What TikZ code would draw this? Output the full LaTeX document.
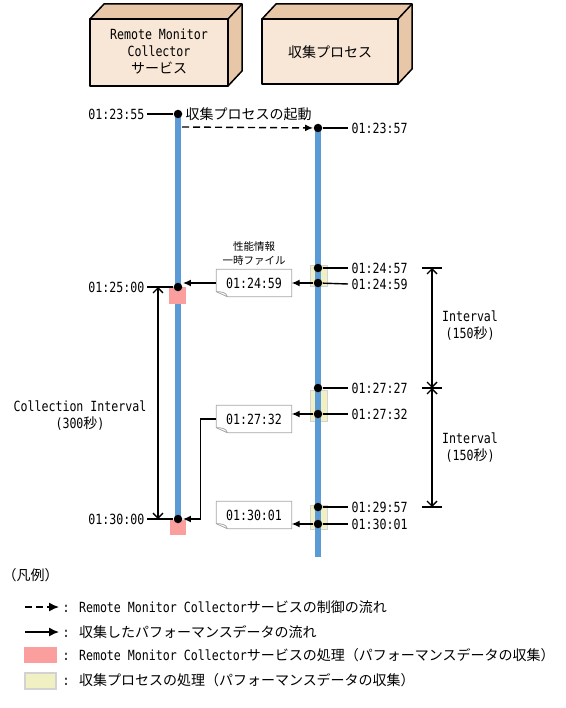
\documentclass[tikz,border=0pt]{standalone}
\usepackage{fontspec}
\setmainfont[FakeStretch=0.83]{DejaVu Sans Mono}
\newfontfamily\jpfont{Noto Sans CJK JP}
\usetikzlibrary{arrows.meta,positioning}
\definecolor{boxfront}{RGB}{248,230,214}
\definecolor{boxside}{RGB}{232,198,168}
\definecolor{lifeblue}{RGB}{91,155,213}
\definecolor{rmcpink}{RGB}{250,158,158}
\definecolor{procyellow}{RGB}{240,240,194}
\newcommand{\ja}[1]{{\jpfont #1}}
\tikzset{
    seqdiag/.style={
        x=1pt, y=-1pt,
        font=\fontsize{14}{17}\selectfont,
        line width=1.4pt,
        >={Latex[length=8pt,width=7pt]},
    },
    cubeedge/.style={line width=1.5pt, line join=round},
    boxtext/.style={align=center, inner sep=0pt},
    dotnode/.style={circle, fill=black, inner sep=0pt, minimum size=8.5pt},
    timel/.style={anchor=east, inner sep=2pt},
    timer/.style={anchor=west, inner sep=3pt},
    ctrlflow/.style={dash pattern=on 7pt off 4pt},
    filenote/.style={minimum width=74pt, minimum height=26pt, inner sep=0pt},
    noteedge/.style={draw=gray!70, line width=0.8pt, line join=round},
    notetitle/.style={align=center, inner sep=0pt, font=\fontsize{10.5}{14}\selectfont},
    span/.style={{Straight Barb[length=5pt,width=10pt]}-{Straight Barb[length=5pt,width=10pt]}},
    legendtip/.style={-{Latex[length=10pt,width=9pt]}},
}
\newcommand{\drawcube}[4]{%
    \filldraw[cubeedge, fill=boxside] (#1,#2) -- ({#1+14},{#2-15}) -- ({#3+14},{#2-15})
        -- ({#3+14},{#4-15}) -- (#3,#4) -- (#3,#2) -- cycle;
    \filldraw[cubeedge, fill=boxfront] (#1,#2) rectangle (#3,#4);
    \draw[cubeedge] (#3,#2) -- ({#3+14},{#2-15});}
\newcommand{\noteoutline}[1]{%
    \filldraw[noteedge, fill=white] (#1.north west) -- (#1.north east) -- (#1.south east)
        -- ([xshift=11pt]#1.south west) -- ([yshift=5pt]#1.south west) -- cycle;
    \draw[noteedge] ([xshift=11pt]#1.south west) to[out=100,in=0] ([yshift=5pt]#1.south west);}

\begin{document}
\begin{tikzpicture}[seqdiag]
\useasboundingbox (0,0) rectangle (565,708);
% server boxes
\drawcube{90}{19}{228}{86}
\drawcube{262}{19}{398}{84}
\node[boxtext] (rmc) at (159,52) {Remote Monitor\\Collector\\\ja{サービス}};
\node[boxtext] (proc) at (330,52) {\ja{収集プロセス}};
% processing on the collector side
\filldraw[draw=gray!35, line width=1pt, fill=procyellow] (310,265) rectangle (327,286);
\filldraw[draw=gray!35, line width=1pt, fill=procyellow] (310,390) rectangle (327,421);
\filldraw[draw=gray!35, line width=1pt, fill=procyellow] (310,505) rectangle (327,529);
% lifelines
\fill[lifeblue] (175,114) rectangle (181,535);
\fill[lifeblue] (315,128) rectangle (321,557);
\fill[rmcpink] (169,287) rectangle (186,304);
\fill[rmcpink] (170,520) rectangle (186,535);
% events
\node[dotnode] (l0) at (178,114) {};
\node[dotnode] (l1) at (178,287) {};
\node[dotnode] (l2) at (178,519) {};
\node[dotnode] (r0) at (318,128) {};
\node[dotnode] (r1) at (318,268) {};
\node[dotnode] (r2) at (318,283) {};
\node[dotnode] (r3) at (318,388) {};
\node[dotnode] (r4) at (318,414) {};
\node[dotnode] (r5) at (318,507) {};
\node[dotnode] (r6) at (318,524) {};
% times
\node[timel] (t0) at (147,114) {01:23:55};
\node[timel] (t1) at (147,287) {01:25:00};
\node[timel] (t2) at (147,519) {01:30:00};
\draw (t0.east) -- (l0);
\draw (t1.east) -- (l1);
\draw (t2.east) -- (l2);
\node[timer] (u0) at (348,128) {01:23:57};
\node[timer] (u1) at (348,268) {01:24:57};
\node[timer] (u2) at (348,284) {01:24:59};
\node[timer] (u3) at (348,388) {01:27:27};
\node[timer] (u4) at (348,414) {01:27:32};
\node[timer] (u5) at (348,507) {01:29:57};
\node[timer] (u6) at (348,524) {01:30:01};
\foreach \i in {0,...,6} {\draw (r\i) -- (u\i.west);}
\node[anchor=west, inner sep=1pt] (start) at (184,114) {\ja{収集プロセスの起動}};
\coordinate (dstart) at (182,127);
\draw[ctrlflow, ->] (dstart) -- (r0);
% performance files
\node[filenote] (f1) at (254,283) {};
\noteoutline{f1}
\node (f1txt) at (f1.center) {01:24:59};
\node[notetitle, above=3pt of f1] (f1t) {\ja{性能情報}\\\ja{一時ファイル}};
\node[filenote] (f2) at (254,419) {};
\noteoutline{f2}
\node (f2txt) at (f2.center) {01:27:32};
\node[filenote] (f3) at (254,515) {};
\noteoutline{f3}
\node (f3txt) at (f3.center) {01:30:01};
\draw[->] (r2) -- (r2 -| f1.east);
\draw[->] (f1.west) -- (f1.west -| l1.east);
\draw[->] (r4) -- (r4 -| f2.east);
\draw[->] (f2.west) -- ([xshift=-16pt]f2.west) |- (l2);
\draw[->] (r6) -- (r6 -| f3.east);
% intervals
\coordinate (ci1) at (158,287);
\coordinate (ci2) at (158,519);
\draw[span] (ci1) -- (ci2);
\node[boxtext] (cil) at (80,416) {Collection Interval\\(300\ja{秒})};
\coordinate (iv0) at (432,268);
\coordinate (iv1) at (432,388);
\coordinate (iv2) at (432,507);
\foreach \c in {iv0,iv1,iv2} {\draw ([xshift=-10pt]\c) -- ([xshift=10pt]\c);}
\draw[span] (iv0) -- (iv1);
\draw[span] (iv1) -- (iv2);
\node[boxtext] (ivl1) at (470,326) {Interval\\(150\ja{秒})};
\node[boxtext] (ivl2) at (470,448) {Interval\\(150\ja{秒})};
% legend
\node[anchor=west, inner sep=0pt] (lgd) at (2,575) {\ja{（凡例）}};
\coordinate (a1s) at (25,607);
\coordinate (a1e) at (59,607);
\coordinate (a2s) at (25,632);
\coordinate (a2e) at (59,632);
\draw[ctrlflow, legendtip] (a1s) -- (a1e);
\draw[legendtip] (a2s) -- (a2e);
\fill[rmcpink] (24,647) rectangle (57,663);
\filldraw[draw=gray!35, line width=1.5pt, fill=procyellow] (25,673) rectangle (56,689);
\node[anchor=west, inner sep=0pt] (lg1) at (62,607) {: Remote Monitor Collector\ja{サービスの制御の流れ}};
\node[anchor=west, inner sep=0pt] (lg2) at (62,632) {: \ja{収集したパフォーマンスデータの流れ}};
\node[anchor=west, inner sep=0pt] (lg3) at (62,655) {: Remote Monitor Collector\ja{サービスの処理（パフォーマンスデータの収集）}};
\node[anchor=west, inner sep=0pt] (lg4) at (62,680) {: \ja{収集プロセスの処理（パフォーマンスデータの収集）}};
\end{tikzpicture}
\end{document}
